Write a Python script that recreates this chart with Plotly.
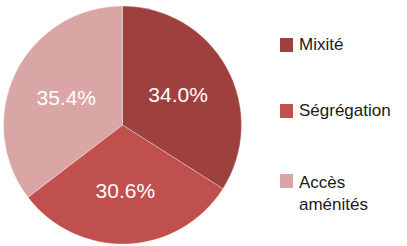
import plotly.graph_objects as go

labels = ["Mixité", "Ségrégation", "Accès<br>aménités"]
values = [34.0, 30.6, 35.4]
colors = ["#9E403E", "#C0504D", "#D9A6A5"]
legend_y = [45, 111, 193]  # pixel centres of legend texts from top

W, H = 407, 246
fig = go.Figure()
fig.add_trace(go.Pie(
    labels=labels, values=values, sort=False, direction="clockwise", rotation=0,
    marker=dict(colors=colors, line=dict(color="rgba(255,255,255,0.5)", width=0.6)),
    texttemplate="%{value:.1f}%", textposition="inside", insidetextorientation="horizontal",
    textfont=dict(family="Liberation Sans, Arial", size=21, color="white"),
    showlegend=False, hoverinfo="skip",
    domain=dict(x=[3.5/W, 241.5/W], y=[2/H, 240/H]),
))

shapes = []
annotations = []
for i, (lab, col, yc) in enumerate(zip(labels, colors, legend_y)):
    sy = yc if i < 2 else 181
    shapes.append(dict(type="rect", xref="paper", yref="paper",
                       x0=280/W, x1=293/W, y0=1-(sy+7)/H, y1=1-(sy-7)/H,
                       fillcolor=col, line=dict(width=0)))
    annotations.append(dict(x=297/W, y=1-yc/H, xref="paper", yref="paper",
                            xanchor="left", yanchor="middle", showarrow=False,
                            text=lab, align="left",
                            font=dict(family="Liberation Sans, Arial", size=17, color="#1a1a1a")))

fig.update_layout(
    width=W, height=H, margin=dict(l=0, r=0, t=0, b=0),
    paper_bgcolor="white", plot_bgcolor="white",
    shapes=shapes, annotations=annotations,
)
fig.write_html("out.html", config={"displayModeBar": False},
               post_script="document.body.style.margin='0';document.body.style.overflow='hidden';")
